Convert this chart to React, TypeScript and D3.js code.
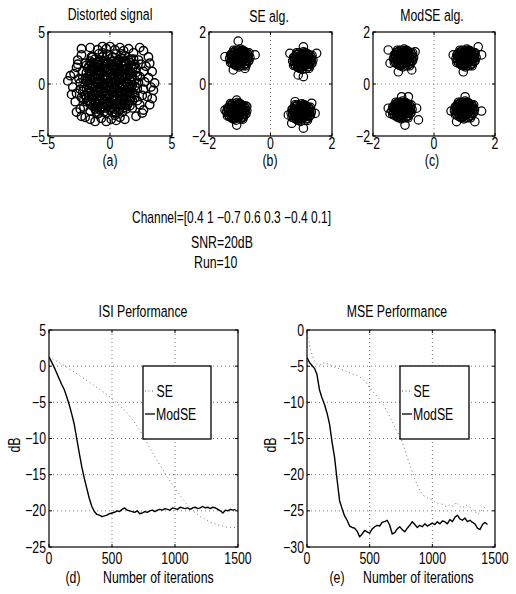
import React from 'react';
import * as d3 from 'd3';

const FONT = "'Liberation Sans', Arial, sans-serif";

type P = [number, number];

// ---------- (a) Distorted signal: scatter points ----------
const distortedOuter: P[] = [
  [-3.2,0.8],[-3.4,0.3],[-3.0,-0.3],[-2.9,1.0],[-2.7,1.6],[-3.1,-1.0],[-2.8,-1.7],[-2.7,-2.7],[-2.3,-3.1],[-2.6,2.3],[-2.3,2.8],
  [-2.3,3.4],[-1.6,3.5],[-1.0,3.3],[-0.6,3.6],[-0.3,3.4],[0.0,3.6],[0.4,3.3],[0.8,3.5],[1.1,3.2],[1.5,3.4],[1.9,3.0],[2.4,3.5],[2.7,3.2],[3.1,2.6],
  [3.2,2.0],[3.4,1.2],[3.1,0.6],[3.6,0.1],[3.3,-0.3],[3.5,-0.6],[3.0,-1.2],[3.4,-1.4],[3.2,-2.0],[2.7,-2.5],[2.6,-2.8],[2.9,1.7],
  [2.1,-3.1],[1.2,-3.4],[0.8,-3.2],[0.5,-3.5],[0.1,-3.4],[-0.3,-3.6],[-0.7,-3.3],[-1.2,-3.6],[-1.6,-3.4],[-2.0,-3.2],
  [-2.5,0.5],[-2.4,-0.5],[-2.2,1.2],[-2.3,-1.3],[-2.0,2.0],[-2.1,-2.2],[-1.5,2.6],[-1.6,-2.6],[-0.9,2.9],[-1.0,-2.9],[-0.2,2.8],[-0.3,-2.8],
  [0.5,2.9],[0.4,-3.0],[1.2,2.7],[1.0,-2.7],[1.9,2.4],[1.8,-2.3],[2.5,1.9],[2.4,-2.0],[2.7,1.2],[2.6,-1.1],[2.8,0.2],[2.7,-0.5],[2.4,0.7],
  [2.2,-1.6],[2.1,1.5],[-1.9,-1.7],[-2.7,-0.9],[-2.6,1.9]
];
const distortedCore: P[] = [
  [-1.6,2.2],[-1.2,2.4],[-0.8,2.3],[-0.4,2.2],[0.0,2.4],[0.3,2.2],[0.7,2.35],[1.1,2.2],[1.5,2.3],
  [-1.9,1.8],[-1.5,2.0],[-1.1,1.9],[-0.7,1.8],[-0.3,2.0],[0.1,1.9],[0.5,1.8],[0.9,2.0],[1.3,1.9],[1.7,1.8],
  [-1.8,1.5],[-1.4,1.4],[-1.0,1.6],[-0.6,1.5],[-0.2,1.4],[0.2,1.6],[0.6,1.5],[1.0,1.4],[1.4,1.6],[1.8,1.5],
  [-1.9,1.1],[-1.5,1.2],[-1.1,1.0],[-0.7,1.1],[-0.3,1.2],[0.1,1.0],[0.5,1.1],[0.9,1.2],[1.3,1.0],[1.7,1.1],
  [-1.8,0.7],[-1.4,0.6],[-1.0,0.8],[-0.6,0.7],[-0.2,0.6],[0.2,0.8],[0.6,0.7],[1.0,0.6],[1.4,0.8],[1.8,0.7],
  [-1.9,0.3],[-1.5,0.4],[-1.1,0.2],[-0.7,0.3],[-0.3,0.4],[0.1,0.2],[0.5,0.3],[0.9,0.4],[1.3,0.2],[1.7,0.3],
  [-1.8,-0.1],[-1.4,-0.2],[-1.0,0.0],[-0.6,-0.1],[-0.2,-0.2],[0.2,0.0],[0.6,-0.1],[1.0,-0.2],[1.4,0.0],[1.8,-0.1],
  [-1.9,-0.5],[-1.5,-0.4],[-1.1,-0.6],[-0.7,-0.5],[-0.3,-0.4],[0.1,-0.6],[0.5,-0.5],[0.9,-0.4],[1.3,-0.6],[1.7,-0.5],
  [-1.8,-0.9],[-1.4,-1.0],[-1.0,-0.8],[-0.6,-0.9],[-0.2,-1.0],[0.2,-0.8],[0.6,-0.9],[1.0,-1.0],[1.4,-0.8],[1.8,-0.9],
  [-1.9,-1.3],[-1.5,-1.2],[-1.1,-1.4],[-0.7,-1.3],[-0.3,-1.2],[0.1,-1.4],[0.5,-1.3],[0.9,-1.2],[1.3,-1.4],[1.7,-1.3],
  [-1.6,-1.7],[-1.2,-1.8],[-0.8,-1.6],[-0.4,-1.7],[0.0,-1.8],[0.4,-1.6],[0.8,-1.7],[1.2,-1.8],[1.6,-1.6],
  [-1.4,-2.1],[-1.0,-2.0],[-0.6,-2.2],[-0.2,-2.1],[0.2,-2.0],[0.6,-2.2],[1.0,-2.1],[1.4,-2.0],
  [-1.2,-2.4],[-0.8,-2.5],[-0.4,-2.3],[0.0,-2.5],[0.4,-2.4],[0.8,-2.3],
  [-1.4,2.6],[-1.0,2.1],[-0.6,2.6],[-0.2,2.1],[0.2,2.6],[0.5,2.1],[0.9,2.5],[1.3,2.1],[1.7,2.4],
  [-1.7,1.7],[-1.3,1.7],[-0.9,1.3],[-0.5,1.7],[-0.1,1.3],[0.3,1.7],[0.7,1.3],[1.1,1.7],[1.5,1.3],[2.0,1.9],
  [-2.0,0.5],[-1.6,0.9],[-1.2,0.5],[-0.8,0.9],[-0.4,0.5],[0.0,0.9],[0.4,0.5],[0.8,0.9],[1.2,0.5],[1.6,0.9],[2.0,0.4],
  [-2.1,-0.3],[-1.7,0.1],[-1.3,-0.3],[-0.9,0.1],[-0.5,-0.3],[-0.1,0.1],[0.3,-0.3],[0.7,0.1],[1.1,-0.3],[1.5,-0.3],[2.0,-0.2],
  [-2.0,-1.1],[-1.6,-0.7],[-1.2,-1.1],[-0.8,-0.7],[-0.4,-1.1],[0.0,-0.7],[0.4,-1.1],[0.8,-0.7],[1.2,-1.1],[1.6,-0.7],[2.0,-1.0],
  [-1.8,-1.6],[-1.4,-1.5],[-1.0,-1.9],[-0.6,-1.5],[-0.2,-1.9],[0.2,-1.5],[0.6,-1.9],[1.0,-1.5],[1.4,-1.9],[1.8,-1.6],
  [-1.1,-2.7],[-0.5,-2.7],[0.2,-2.7],[0.7,-2.6],[1.3,-2.4],
  [-1.3,2.0],[-0.85,2.15],[-0.45,1.95],[0.15,2.15],[0.65,2.05],[1.2,2.15],[1.6,2.05],
  [-1.65,1.25],[-1.25,1.45],[-0.85,1.2],[-0.45,1.35],[0.0,1.15],[0.4,1.4],[0.8,1.25],[1.2,1.35],[1.6,1.2],[2.1,1.1],
  [-2.2,0.55],[-1.65,0.45],[-1.25,0.85],[-0.85,0.45],[-0.45,0.85],[0.05,0.5],[0.35,0.95],[0.75,0.45],[1.15,0.85],[1.55,0.45],[2.2,0.8],
  [-2.2,-0.7],[-1.65,-0.35],[-1.25,-0.75],[-0.85,-0.3],[-0.45,-0.7],[-0.05,-0.35],[0.35,-0.75],[0.75,-0.3],[1.15,-0.75],[1.55,-0.95],[2.2,-0.4],
  [-2.1,-1.5],[-1.65,-1.15],[-1.25,-1.6],[-0.85,-1.15],[-0.45,-1.5],[-0.05,-1.15],[0.35,-1.5],[0.75,-1.15],[1.15,-1.55],[1.55,-1.15],[2.0,-1.3],
  [-1.55,-2.0],[-1.2,-2.2],[-0.8,-2.3],[-0.4,-1.95],[0.0,-2.25],[0.4,-2.0],[0.8,-2.05],[1.2,-2.25],[1.6,-2.1],
  [-0.9,-2.8],[0.5,-2.8],[-2.4,0.1],[2.3,0.1],[-0.6,3.0],[0.9,2.9],[2.3,2.3],[-2.4,-2.4]
];

// ---------- (b),(c) constellation clusters ----------
const clusterSpread: P[] = [
  [0,0],[0.1,0.05],[-0.1,0.08],[0.05,-0.12],[-0.08,-0.1],[0.18,0],[-0.2,0.02],[0,0.2],[0.02,-0.22],
  [0.15,0.16],[-0.15,0.17],[0.16,-0.15],[-0.17,-0.16],[0.28,0.05],[-0.28,-0.04],[0.05,0.29],[-0.06,-0.28],
  [0.24,0.2],[-0.22,0.22],[0.22,-0.22],[-0.24,-0.2],[0.3,-0.1],[-0.3,0.12],[0.1,0.3],[-0.12,0.3],[0.12,-0.3],
  [-0.1,-0.3],[0.08,0.12],[-0.05,0.14],[0.12,-0.05],[-0.12,-0.02],[0.04,-0.06],[0.2,0.08],[-0.2,-0.08],
  [0.07,0.22],[-0.04,-0.18],[0.26,-0.02],[-0.26,0.06],[0.14,0.26],[-0.16,-0.26],[0.33,0.02],[-0.33,-0.02],
  [0.02,0.34],[-0.02,-0.34],[0.3,0.2],[-0.3,-0.18],[0.2,-0.3],[-0.2,0.3],
  [0.05,0.02],[-0.04,0.05],[0.02,-0.05],[-0.05,-0.03],[0.12,0.1],[-0.12,0.1],[0.12,-0.1],[-0.12,-0.1],
  [0.0,0.12],[0.0,-0.12],[0.14,0.0],[-0.14,0.0],[0.08,0.18],[-0.08,0.18],[0.08,-0.18],[-0.08,-0.18],
  [0.2,0.12],[-0.2,0.12],[0.2,-0.12],[-0.2,-0.12],[0.22,0.02],[-0.22,-0.02],[0.04,0.24],[-0.04,-0.24],
  [0.17,0.24],[-0.17,0.24],[0.17,-0.24],[-0.17,-0.24],[0.27,0.13],[-0.27,0.13],[0.27,-0.13],[-0.27,-0.13],
  [0.1,0.0],[-0.1,0.0],[0.0,0.07],[0.0,-0.07]
];
const seCenters: P[] = [[-1.0,1.0],[1.05,0.9],[-1.1,-1.05],[1.0,-1.1]];
const seEdge: P[] = [
  [-1.05,1.65],[-1.21,0.54],[-0.83,0.6],[-0.5,1.12],[-1.48,1.05],
  [0.63,1.18],[1.5,1.18],[0.9,0.35],[1.07,0.28],[1.07,1.43],
  [-1.48,-1.0],[-1.1,-1.58],[-0.77,-0.87],[-1.1,-0.62],
  [0.58,-1.19],[0.8,-0.68],[1.45,-1.13],[1.34,-0.74],[1.07,-1.7],[0.69,-1.51]
];
const modCenters: P[] = [[-1.0,1.0],[1.05,1.0],[-1.05,-1.0],[1.0,-1.0]];
const modEdge: P[] = [
  [-1.5,1.31],[-1.44,0.8],[-0.62,1.24],[-1.17,0.47],[-0.73,0.54],
  [1.56,1.12],[0.96,0.47],[1.45,1.43],[0.63,1.12],
  [-1.5,-0.93],[-1.06,-0.49],[-0.84,-0.49],[-0.57,-0.93],[-0.51,-1.38],[-0.95,-1.58],[-1.44,-1.13],
  [0.56,-1.04],[1.56,-1.04],[1.02,-0.49],[0.74,-1.45],[1.34,-1.45]
];

// ---------- (d),(e) learning curves ----------
const iters20 = [0,20,40,60,80,100,120,140,160,180,200,220,240,260,280,300,320,340,360,380,400,420,440,460,480,500,
  520,540,560,580,600,620,640,660,680,700,720,740,760,780,800,820,840,860,880,900,920,940,960,980,1000,
  1020,1040,1060,1080,1100,1120,1140,1160,1180,1200,1220,1240,1260,1280,1300,1320,1340,1360,1380,1400,
  1420,1440,1460,1480];
const isiModSE = [1.3,0.6,-0.1,-0.9,-1.7,-2.5,-3.2,-4.2,-5.3,-6.6,-8.0,-10.0,-12.0,-13.9,-15.5,-16.9,-18.3,-19.4,
  -20.1,-20.5,-20.6,-20.8,-20.7,-20.6,-20.4,-20.3,-20.2,-20.0,-20.1,-19.8,-19.6,-19.9,-20.0,-20.1,-20.2,-20.0,
  -20.4,-20.3,-20.1,-20.2,-20.0,-19.9,-20.1,-19.9,-19.8,-19.9,-19.7,-19.8,-19.9,-19.6,-19.7,-19.8,-19.5,-19.6,
  -19.7,-19.6,-19.8,-19.6,-19.5,-19.7,-19.6,-19.4,-19.6,-19.5,-19.7,-19.5,-19.6,-19.8,-20.0,-20.3,-19.9,-20.0,
  -19.8,-19.9,-19.8];
const mseModSE = [-3.8,-4.5,-4.9,-5.3,-6.2,-8.3,-9.4,-10.3,-11.5,-13.0,-15.5,-17.6,-20.7,-23.6,-24.7,-25.7,-26.3,
  -27.1,-27.3,-27.4,-27.8,-28.6,-28.2,-27.7,-27.9,-28.1,-27.5,-27.2,-27.0,-27.1,-26.6,-26.5,-26.3,-27.0,-28.2,
  -28.0,-27.5,-27.2,-27.6,-27.9,-27.4,-27.0,-26.5,-26.9,-27.3,-27.0,-27.2,-26.8,-27.1,-26.9,-26.7,-26.9,-26.5,
  -26.8,-26.4,-26.5,-26.8,-26.2,-26.5,-25.9,-25.6,-26.1,-26.3,-26.0,-26.5,-26.3,-26.6,-26.8,-27.4,-27.6,-26.9,
  -26.6,-26.9];
const isiSE: P[] = [[0,1.3],[50,0.8],[100,0.3],[150,-0.25],[200,-0.8],[250,-1.4],[300,-2.0],[350,-2.6],[400,-3.2],
  [450,-3.8],[500,-4.5],[550,-5.3],[600,-6.1],[650,-7.1],[700,-8.3],[750,-9.7],[800,-11.3],[850,-12.8],[900,-14.2],
  [950,-15.6],[1000,-16.9],[1050,-18.1],[1100,-19.2],[1150,-20.1],[1200,-20.8],[1250,-21.3],[1300,-21.7],
  [1350,-22.0],[1400,-22.2],[1450,-22.3],[1490,-22.3]];
const mseSE: P[] = [[0,-0.5],[15,-1.5],[30,-2.8],[50,-3.9],[75,-4.7],[100,-4.9],[125,-4.6],[150,-4.5],[175,-4.8],
  [200,-5.0],[250,-5.3],[300,-5.6],[350,-6.0],[400,-6.3],[440,-6.7],[470,-7.3],[500,-8.0],[550,-9.0],[600,-10.0],
  [650,-11.6],[700,-13.4],[750,-15.0],[780,-16.5],[810,-18.2],[840,-19.6],[870,-21.0],[900,-22.2],[930,-22.9],
  [960,-23.2],[990,-23.4],[1020,-23.8],[1050,-24.0],[1080,-24.1],[1110,-24.4],[1140,-24.2],[1170,-24.4],
  [1190,-23.8],[1210,-24.3],[1240,-24.6],[1270,-24.2],[1300,-24.5],[1330,-24.9],[1360,-25.5],[1380,-25.2],
  [1400,-24.8],[1420,-24.5],[1435,-24.2]];

const ticks5 = [-5, 0, 5];
const ticks2 = [-2, 0, 2];
const isiYTicks = [5, 0, -5, -10, -15, -20, -25];
const mseYTicks = [0, -5, -10, -15, -20, -25, -30];
const iterTicks = [0, 500, 1000, 1500];
const legendLabels = ['SE', 'ModSE'];

const fmt = (v: number) => (v < 0 ? '\u2212' + Math.abs(v) : String(v));

function T({ x, y, children, anchor = 'start', size = 15, rotate = 0, sx = 0.82 }: any) {
  return (
    <text
      transform={`translate(${x},${y})${rotate ? ` rotate(${rotate})` : ''} scale(${sx},1.06)`}
      textAnchor={anchor}
      fontFamily={FONT}
      fontSize={size}
      fill="#000"
    >
      {children}
    </text>
  );
}

function Panel({ id, left, right, top, bottom, xDomain, yDomain, xTicks, yTicks, xLabelBase, render }: any) {
  const x = d3.scaleLinear().domain(xDomain).range([left, right]);
  const y = d3.scaleLinear().domain(yDomain).range([bottom, top]);
  const innerX = xTicks.filter((v: number) => x(v) > left + 1 && x(v) < right - 1);
  const innerY = yTicks.filter((v: number) => y(v) > top + 1 && y(v) < bottom - 1);
  const tl = 3;
  return (
    <g>
      <defs>
        <clipPath id={id}>
          <rect x={left} y={top} width={right - left} height={bottom - top} />
        </clipPath>
      </defs>
      {innerX.map((v: number) => (
        <line key={'gx' + v} x1={x(v)} x2={x(v)} y1={top} y2={bottom} stroke="#555" strokeWidth={0.8} strokeDasharray="1 3" />
      ))}
      {innerY.map((v: number) => (
        <line key={'gy' + v} x1={left} x2={right} y1={y(v)} y2={y(v)} stroke="#555" strokeWidth={0.8} strokeDasharray="1 3" />
      ))}
      <g clipPath={`url(#${id})`}>{render(x, y)}</g>
      {xTicks.map((v: number) => (
        <g key={'tx' + v}>
          <line x1={x(v)} x2={x(v)} y1={bottom} y2={bottom - tl} stroke="#000" />
          <line x1={x(v)} x2={x(v)} y1={top} y2={top + tl} stroke="#000" />
          <T x={x(v)} y={xLabelBase} anchor="middle">{fmt(v)}</T>
        </g>
      ))}
      {yTicks.map((v: number) => (
        <g key={'ty' + v}>
          <line x1={left} x2={left + tl} y1={y(v)} y2={y(v)} stroke="#000" />
          <line x1={right} x2={right - tl} y1={y(v)} y2={y(v)} stroke="#000" />
          <T x={left - 3} y={y(v) + 5.5} anchor="end">{fmt(v)}</T>
        </g>
      ))}
      <rect x={left} y={top} width={right - left} height={bottom - top} fill="none" stroke="#000" strokeWidth={1.2} />
    </g>
  );
}

const circleR = 4.2;

function scatter(points: P[], x: any, y: any, key: string, sw = 1.2) {
  return points.map((p, i) => (
    <circle key={key + i} cx={x(p[0])} cy={y(p[1])} r={circleR} fill="none" stroke="#000" strokeWidth={sw} />
  ));
}

function clusters(centers: P[], edge: P[]) {
  const pts: P[] = [];
  centers.forEach((c) => clusterSpread.forEach((o) => pts.push([c[0] + o[0], c[1] + o[1]])));
  return pts.concat(edge);
}

function Legend({ left, top, width, height }: any) {
  return (
    <g>
      <rect x={left} y={top} width={width} height={height} fill="#fff" stroke="#000" strokeWidth={1.3} />
      <line x1={left + 2} x2={left + 12} y1={top + 25} y2={top + 25} stroke="#555" strokeWidth={1} strokeDasharray="1 2.5" />
      <T x={left + 13.5} y={top + 31}>{legendLabels[0]}</T>
      <line x1={left + 2} x2={left + 12} y1={top + 48} y2={top + 48} stroke="#000" strokeWidth={1.3} />
      <T x={left + 13} y={top + 54}>{legendLabels[1]}</T>
    </g>
  );
}

function curves(x: any, y: any, se: P[], modVals: number[]) {
  const line = d3.line<P>().x((d) => x(d[0])).y((d) => y(d[1]));
  const mod: P[] = modVals.map((v, i) => [iters20[i], v]);
  return (
    <g>
      <path d={line(se) || ''} fill="none" stroke="#777" strokeWidth={1} strokeDasharray="1 3" />
      <path d={line(mod) || ''} fill="none" stroke="#000" strokeWidth={1.4} strokeLinejoin="round" />
    </g>
  );
}

export default function App() {
  return (
    <svg width={516} height={594} style={{ position: 'absolute', left: 0, top: 0, background: '#fff' }}>
      <rect x={0} y={0} width={516} height={594} fill="#fff" />
      {/* (a) */}
      <T x={110} y={20} anchor="middle">Distorted signal</T>
      <Panel id="ca" left={48} right={172} top={32} bottom={136} xDomain={[-5, 5]} yDomain={[-5, 5]}
        xTicks={ticks5} yTicks={ticks5} xLabelBase={149}
        render={(x: any, y: any) => scatter(distortedOuter.concat(distortedCore), x, y, 'a', 1.4)} />
      <T x={110} y={166} anchor="middle">(a)</T>
      {/* (b) */}
      <T x={269} y={22} anchor="middle">SE alg.</T>
      <Panel id="cb" left={209} right={332} top={32} bottom={136} xDomain={[-2, 2]} yDomain={[-2, 2]}
        xTicks={ticks2} yTicks={ticks2} xLabelBase={149}
        render={(x: any, y: any) => scatter(clusters(seCenters, seEdge), x, y, 'b')} />
      <T x={270} y={166} anchor="middle">(b)</T>
      {/* (c) */}
      <T x={432} y={21} anchor="middle">ModSE alg.</T>
      <Panel id="cc" left={373} right={495} top={32} bottom={136} xDomain={[-2, 2]} yDomain={[-2, 2]}
        xTicks={ticks2} yTicks={ticks2} xLabelBase={149}
        render={(x: any, y: any) => scatter(clusters(modCenters, modEdge), x, y, 'c')} />
      <T x={432} y={166} anchor="middle">(c)</T>

      {/* annotations */}
      <T x={132} y={223} sx={0.8}>Channel=[0.4 1 {'\u2212'}0.7 0.6 0.3 {'\u2212'}0.4 0.1]</T>
      <T x={191} y={248}>SNR=20dB</T>
      <T x={194} y={268}>Run=10</T>

      {/* (d) */}
      <T x={143} y={317} anchor="middle">ISI Performance</T>
      <Panel id="cd" left={49} right={238} top={330} bottom={547} xDomain={[0, 1500]} yDomain={[-25, 5]}
        xTicks={iterTicks} yTicks={isiYTicks} xLabelBase={564}
        render={(x: any, y: any) => curves(x, y, isiSE, isiModSE)} />
      <Legend left={143} top={366} width={68} height={73} />
      <T x={20} y={445} anchor="middle" rotate={-90}>dB</T>
      <T x={73} y={583} anchor="middle">(d)</T>
      <T x={103} y={583}>Number of iterations</T>

      {/* (e) */}
      <T x={397} y={317} anchor="middle">MSE Performance</T>
      <Panel id="ce" left={307} right={495} top={330} bottom={547} xDomain={[0, 1500]} yDomain={[-30, 0]}
        xTicks={iterTicks} yTicks={mseYTicks} xLabelBase={564}
        render={(x: any, y: any) => curves(x, y, mseSE, mseModSE.slice(0, 73))} />
      <Legend left={400} top={366} width={69} height={73} />
      <T x={276} y={445} anchor="middle" rotate={-90}>dB</T>
      <T x={337} y={583} anchor="middle">(e)</T>
      <T x={363} y={583}>Number of iterations</T>
    </svg>
  );
}
